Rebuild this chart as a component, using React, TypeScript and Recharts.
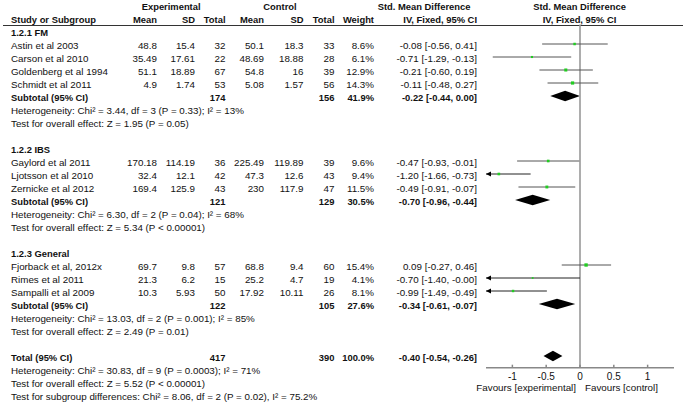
import React from "react";
import {
  ComposedChart,
  XAxis,
  YAxis,
  Scatter,
  ReferenceLine,
  ReferenceArea,
  ReferenceDot,
} from "recharts";

// ---------- data ----------
const groupNames = ["1.2.1 FM", "1.2.2 IBS", "1.2.3 General"];
const groupHeaderRow = [2, 11, 19];
const studyNames = [
  "Astin et al 2003",
  "Carson et al 2010",
  "Goldenberg et al 1994",
  "Schmidt et al 2011",
  "Gaylord et al 2011",
  "Ljotsson et al 2010",
  "Zernicke et al 2012",
  "Fjorback et al, 2012x",
  "Rimes et al 2011",
  "Sampalli et al 2009",
];
const studyGroup = [0, 0, 0, 0, 1, 1, 1, 2, 2, 2];
const expMean = [48.8, 35.49, 51.1, 4.9, 170.18, 32.4, 169.4, 69.7, 21.3, 10.3];
const expSD = [15.4, 17.61, 18.89, 1.74, 114.19, 12.1, 125.9, 9.8, 6.2, 5.93];
const expN = [32, 22, 67, 53, 36, 42, 43, 57, 15, 50];
const ctrlMean = [50.1, 48.69, 54.8, 5.08, 225.49, 47.3, 230, 68.8, 25.2, 17.92];
const ctrlSD = [18.3, 18.88, 16, 1.57, 119.89, 12.6, 117.9, 9.4, 4.7, 10.11];
const ctrlN = [33, 28, 39, 56, 39, 43, 47, 60, 19, 26];
const weight = [8.6, 6.1, 12.9, 14.3, 9.6, 9.4, 11.5, 15.4, 4.1, 8.1];
const smd = [-0.08, -0.71, -0.21, -0.11, -0.47, -1.2, -0.49, 0.09, -0.7, -0.99];
const ciLow = [-0.56, -1.29, -0.6, -0.48, -0.93, -1.66, -0.91, -0.27, -1.4, -1.49];
const ciHigh = [0.41, -0.13, 0.19, 0.27, -0.01, -0.73, -0.07, 0.46, -0, -0.49];

const subExpN = [174, 121, 122];
const subCtrlN = [156, 129, 105];
const subWeight = [41.9, 30.5, 27.6];
const subSmd = [-0.22, -0.7, -0.34];
const subLow = [-0.44, -0.96, -0.61];
const subHigh = [0.0, -0.44, -0.07];
const subHet = [
  "Heterogeneity: Chi² = 3.44, df = 3 (P = 0.33); I² = 13%",
  "Heterogeneity: Chi² = 6.30, df = 2 (P = 0.04); I² = 68%",
  "Heterogeneity: Chi² = 13.03, df = 2 (P = 0.001); I² = 85%",
];
const subTest = [
  "Test for overall effect: Z = 1.95 (P = 0.05)",
  "Test for overall effect: Z = 5.34 (P < 0.00001)",
  "Test for overall effect: Z = 2.49 (P = 0.01)",
];

const totalRow = 27;
const totalExpN = 417;
const totalCtrlN = 390;
const totalWeight = 100.0;
const totalSmd = -0.4;
const totalLow = -0.54;
const totalHigh = -0.26;
const totalLines = [
  "Heterogeneity: Chi² = 30.83, df = 9 (P = 0.0003); I² = 71%",
  "Test for overall effect: Z = 5.52 (P < 0.00001)",
  "Test for subgroup differences: Chi² = 8.06, df = 2 (P = 0.02), I² = 75.2%",
];

const xTicks = [-1, -0.5, 0, 0.5, 1];
const X_MIN = -1.39;
const X_MAX = 1.39;

// ---------- derived ----------
const groupSizes = groupNames.map((_, g) => studyGroup.filter((s) => s === g).length);
const studyRow: number[] = [];
{
  const counters = groupNames.map(() => 0);
  studyGroup.forEach((g) => {
    counters[g] += 1;
    studyRow.push(groupHeaderRow[g] + counters[g]);
  });
}
const subRow = groupNames.map((_, g) => groupHeaderRow[g] + 1 + groupSizes[g]);

const pointData = studyNames.map((_, i) => ({ x: smd[i], y: studyRow[i], w: weight[i] }));

const fmt2 = (v: number) =>
  (v < 0 || Object.is(v, -0) ? "-" : "") + Math.abs(v).toFixed(2);
const fmtCI = (e: number, l: number, h: number) => `${fmt2(e)} [${fmt2(l)}, ${fmt2(h)}]`;

// ---------- layout helpers ----------
const rowY = (i: number) => 6 + 13 * i;
const COL = {
  name: 11,
  expMean: 157,
  expSD: 195,
  expN: 225.5,
  ctrlMean: 264,
  ctrlSD: 303.5,
  ctrlN: 334.5,
  weight: 374,
  ci: 477,
  plotCenter: 579.5,
};

type TProps = {
  x: number;
  y: number;
  text: string | number;
  align?: "left" | "right" | "center";
  bold?: boolean;
};
const T = ({ x, y, text, align = "left", bold = false }: TProps) => {
  const w = 400;
  const style: React.CSSProperties = {
    position: "absolute",
    top: y - 6.5,
    height: 13,
    lineHeight: "13px",
    whiteSpace: "nowrap",
    fontSize: bold ? 9.4 : 9.8,
    fontWeight: bold ? "bold" : "normal",
    color: "#111",
  };
  if (align === "left") style.left = x;
  else if (align === "right") {
    style.left = x - w;
    style.width = w;
    style.textAlign = "right";
  } else {
    style.left = x - w / 2;
    style.width = w;
    style.textAlign = "center";
  }
  return <div style={style}>{text}</div>;
};

const Square = (props: any) => {
  const { cx, cy, payload } = props;
  if (cx == null || cy == null) return null;
  const s = 0.85 * Math.sqrt(payload.w);
  return <rect x={cx - s / 2} y={cy - s / 2} width={s} height={s} fill="#22cc22" />;
};

const makeDiamond = (frac: number) => (props: any) => {
  const { x, y, width, height } = props;
  const mx = x + width * frac;
  return (
    <polygon
      points={`${x},${y + height / 2} ${mx},${y} ${x + width},${y + height / 2} ${mx},${y + height}`}
      fill="#000"
    />
  );
};

const Arrow = (props: any) => {
  const { cx, cy } = props;
  return (
    <polygon points={`${cx},${cy} ${cx + 5},${cy - 2.5} ${cx + 5},${cy + 2.5}`} fill="#000" />
  );
};

export default function App() {
  const texts: React.ReactNode[] = [];
  let k = 0;
  const add = (p: TProps) => texts.push(<T key={k++} {...p} />);

  // headers
  add({ x: 141.7, y: rowY(0), text: "Experimental", bold: true });
  add({ x: 263.3, y: rowY(0), text: "Control", bold: true });
  add({ x: 377.7, y: rowY(0), text: "Std. Mean Difference", bold: true });
  add({ x: COL.plotCenter, y: rowY(0), text: "Std. Mean Difference", bold: true, align: "center" });
  add({ x: COL.name, y: rowY(1), text: "Study or Subgroup", bold: true });
  add({ x: COL.expMean, y: rowY(1), text: "Mean", bold: true, align: "right" });
  add({ x: COL.expSD, y: rowY(1), text: "SD", bold: true, align: "right" });
  add({ x: COL.expN, y: rowY(1), text: "Total", bold: true, align: "right" });
  add({ x: COL.ctrlMean, y: rowY(1), text: "Mean", bold: true, align: "right" });
  add({ x: COL.ctrlSD, y: rowY(1), text: "SD", bold: true, align: "right" });
  add({ x: COL.ctrlN, y: rowY(1), text: "Total", bold: true, align: "right" });
  add({ x: COL.weight, y: rowY(1), text: "Weight", bold: true, align: "right" });
  add({ x: COL.ci, y: rowY(1), text: "IV, Fixed, 95% CI", bold: true, align: "right" });
  add({ x: COL.plotCenter, y: rowY(1), text: "IV, Fixed, 95% CI", bold: true, align: "center" });

  groupNames.forEach((g, gi) => {
    add({ x: COL.name, y: rowY(groupHeaderRow[gi]), text: g, bold: true });
    const sr = subRow[gi];
    add({ x: COL.name, y: rowY(sr), text: "Subtotal (95% CI)", bold: true });
    add({ x: COL.expN, y: rowY(sr), text: subExpN[gi], bold: true, align: "right" });
    add({ x: COL.ctrlN, y: rowY(sr), text: subCtrlN[gi], bold: true, align: "right" });
    add({ x: COL.weight, y: rowY(sr), text: subWeight[gi].toFixed(1) + "%", bold: true, align: "right" });
    add({ x: COL.ci, y: rowY(sr), text: fmtCI(subSmd[gi], subLow[gi], subHigh[gi]), bold: true, align: "right" });
    add({ x: COL.name, y: rowY(sr + 1), text: subHet[gi] });
    add({ x: COL.name, y: rowY(sr + 2), text: subTest[gi] });
  });

  studyNames.forEach((n, i) => {
    const y = rowY(studyRow[i]);
    add({ x: COL.name, y, text: n });
    add({ x: COL.expMean, y, text: String(expMean[i]), align: "right" });
    add({ x: COL.expSD, y, text: String(expSD[i]), align: "right" });
    add({ x: COL.expN, y, text: expN[i], align: "right" });
    add({ x: COL.ctrlMean, y, text: String(ctrlMean[i]), align: "right" });
    add({ x: COL.ctrlSD, y, text: String(ctrlSD[i]), align: "right" });
    add({ x: COL.ctrlN, y, text: ctrlN[i], align: "right" });
    add({ x: COL.weight, y, text: weight[i].toFixed(1) + "%", align: "right" });
    add({ x: COL.ci, y, text: fmtCI(smd[i], ciLow[i], ciHigh[i]), align: "right" });
  });

  add({ x: COL.name, y: rowY(totalRow), text: "Total (95% CI)", bold: true });
  add({ x: COL.expN, y: rowY(totalRow), text: totalExpN, bold: true, align: "right" });
  add({ x: COL.ctrlN, y: rowY(totalRow), text: totalCtrlN, bold: true, align: "right" });
  add({ x: COL.weight, y: rowY(totalRow), text: totalWeight.toFixed(1) + "%", bold: true, align: "right" });
  add({ x: COL.ci, y: rowY(totalRow), text: fmtCI(totalSmd, totalLow, totalHigh), bold: true, align: "right" });
  totalLines.forEach((t, j) => add({ x: COL.name, y: rowY(totalRow + 1 + j), text: t }));

  add({ x: 576, y: 387.7, text: "Favours [experimental]", align: "right" });
  add({ x: 585, y: 387.7, text: "Favours [control]" });

  const diamonds = [
    ...groupNames.map((_, g) => ({ row: subRow[g], e: subSmd[g], l: subLow[g], h: subHigh[g] })),
    { row: totalRow, e: totalSmd, l: totalLow, h: totalHigh },
  ];

  return (
    <div
      style={{
        position: "absolute",
        left: 0,
        top: 0,
        width: 686,
        height: 403,
        background: "#fff",
        fontFamily: "'Liberation Sans', Arial, sans-serif",
        overflow: "hidden",
      }}
    >
      <div style={{ position: "absolute", left: 3, top: 25, width: 680, height: 1, background: "#333" }} />
      <ComposedChart
        width={686}
        height={403}
        margin={{ top: 24.5, right: 12, bottom: 5.3, left: 486 }}
        style={{ position: "absolute", left: 0, top: 0 }}
      >
        <XAxis
          type="number"
          dataKey="x"
          domain={[X_MIN, X_MAX]}
          allowDataOverflow
          ticks={xTicks}
          interval={0}
          height={30}
          stroke="#888"
          strokeWidth={1.5}
          tickSize={-3}
          tickMargin={8.5}
          tick={{ fontSize: 10, fill: "#111", fontFamily: "'Liberation Sans', Arial, sans-serif" }}
          tickFormatter={(v: number) => String(v)}
        />
        <YAxis type="number" dataKey="y" domain={[1.5, 27.9]} reversed allowDataOverflow hide />
        <ReferenceLine x={0} stroke="#999" strokeWidth={1.6} ifOverflow="visible" />
        {studyNames.map((_, i) => (
          <ReferenceLine
            key={"ci" + i}
            segment={[
              { x: Math.max(ciLow[i], X_MIN), y: studyRow[i] },
              { x: Math.min(ciHigh[i], X_MAX), y: studyRow[i] },
            ]}
            stroke={ciLow[i] < X_MIN ? "#222" : "#555"}
            strokeWidth={1}
            ifOverflow="visible"
          />
        ))}
        {studyNames.map((_, i) =>
          ciLow[i] < X_MIN ? (
            <ReferenceDot
              key={"ar" + i}
              x={X_MIN}
              y={studyRow[i]}
              r={3}
              ifOverflow="visible"
              shape={Arrow}
            />
          ) : null
        )}
        {diamonds.map((d, j) => (
          <ReferenceArea
            key={"dm" + j}
            x1={d.l}
            x2={d.h}
            y1={d.row - 0.41}
            y2={d.row + 0.41}
            ifOverflow="visible"
            shape={makeDiamond((d.e - d.l) / (d.h - d.l))}
          />
        ))}
        <Scatter data={pointData} dataKey="y" shape={Square} isAnimationActive={false} />
      </ComposedChart>
      {texts}
    </div>
  );
}
